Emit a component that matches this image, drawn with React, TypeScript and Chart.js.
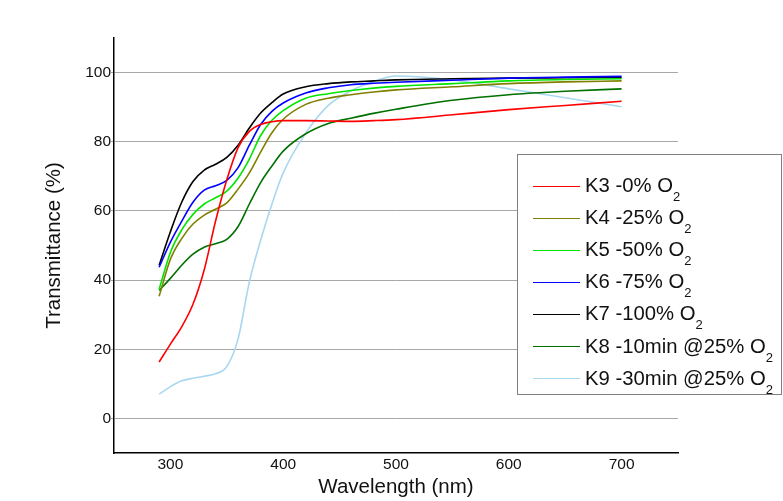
import React, { useEffect, useRef } from "react";
import { Chart, registerables } from "chart.js";
Chart.register(...registerables);

const wavelengths = [290, 300, 310, 320, 330, 340, 350, 360, 370, 380, 390, 400, 420, 440, 460, 480, 500, 550, 600, 650, 700];
const k3 = [16.3, 21.5, 26.5, 33, 43, 57, 69, 78.3, 83, 85, 85.8, 86.1, 86.1, 86, 85.9, 86.1, 86.4, 87.8, 89.3, 90.5, 91.7];
const k4 = [35.3, 46, 52, 56.2, 58.8, 60.5, 62.3, 66.3, 71, 77, 82.6, 86.5, 90.8, 92.6, 93.6, 94.4, 95, 95.9, 96.8, 97.3, 97.6];
const k5 = [37.3, 48, 54.5, 59, 62, 63.8, 65.7, 69.5, 75, 81.8, 86.2, 89, 92.6, 93.9, 94.8, 95.5, 96, 96.8, 97.6, 98, 98.2];
const k6 = [43.7, 51, 57, 62.5, 66, 67.3, 68.8, 72.5, 79, 85, 88.8, 91.2, 94.1, 95.6, 96.5, 96.9, 97.2, 97.8, 98.4, 98.7, 98.9];
const k7 = [44.3, 54, 62.5, 68.5, 71.8, 73.5, 75.5, 79, 84, 88.3, 91.3, 93.8, 95.9, 96.8, 97.3, 97.6, 97.9, 98.2, 98.4, 98.5, 98.6];
const k8 = [37, 40.5, 44.3, 47.5, 49.5, 50.5, 51.8, 55.5, 62, 68.2, 73, 77.3, 82.3, 85.3, 86.8, 88.2, 89.4, 92, 93.6, 94.6, 95.3];
const k9 = [7, 9.2, 10.9, 11.6, 12.2, 12.9, 15, 23, 39.5, 51.5, 62, 71, 82.5, 90.5, 94.7, 97.4, 99.0, 97.9, 95.3, 92.7, 90.1];

const seriesNames = ["K3 -0% O", "K4 -25% O", "K5 -50% O", "K6 -75% O", "K7 -100% O", "K8 -10min @25% O", "K9 -30min @25% O"];
const seriesSub = ["2", "2", "2", "2", "2", "2", "2"];
const seriesValues = [k3, k4, k5, k6, k7, k8, k9];
const seriesColors = ["#ff0000", "#808000", "#00e600", "#0000ff", "#000000", "#007000", "#a8d8f0"];

const xTicks = [300, 400, 500, 600, 700];
const yTicks = [0, 20, 40, 60, 80, 100];

const FONT = "'Liberation Sans', Arial, Helvetica, sans-serif";

export default function App() {
  const ref = useRef<HTMLCanvasElement | null>(null);

  useEffect(() => {
    document.body.style.margin = "0";
    const canvas = ref.current;
    if (!canvas) return;
    const chart = new Chart(canvas, {
      type: "line",
      data: {
        datasets: seriesValues.map((vals, i) => ({
          label: seriesNames[i] + seriesSub[i],
          data: wavelengths.map((x, j) => ({ x, y: vals[j] })),
          borderColor: seriesColors[i],
          backgroundColor: seriesColors[i],
          borderWidth: 1.6,
          pointRadius: 0,
          cubicInterpolationMode: "monotone" as const,
          fill: false,
        })),
      },
      options: {
        animation: false,
        responsive: false,
        layout: { padding: { left: 0, right: 105, top: 38, bottom: 0 } },
        plugins: {
          legend: { display: false },
          tooltip: { enabled: false },
        },
        scales: {
          x: {
            type: "linear",
            min: 250,
            max: 750,
            afterBuildTicks: (s: any) => {
              s.ticks = xTicks.map((v) => ({ value: v }));
            },
            afterFit: (s: any) => {
              s.height = 48;
            },
            grid: { display: true, drawOnChartArea: false, drawTicks: false, color: "rgba(0,0,0,0)" },
            border: { display: true, color: "#000", width: 1.5 },
            ticks: {
              font: { family: FONT, size: 15.5 },
              color: "#111",
              padding: 2,
              maxRotation: 0,
            },
            title: {
              display: true,
              text: "Wavelength (nm)",
              font: { family: FONT, size: 20.5 },
              color: "#111",
              padding: { top: 0, bottom: 1 },
            },
          },
          y: {
            type: "linear",
            min: -10,
            max: 110,
            afterBuildTicks: (s: any) => {
              s.ticks = yTicks.map((v) => ({ value: v }));
            },
            afterFit: (s: any) => {
              s.width = 114;
            },
            grid: { display: true, color: "#a8a8a8", lineWidth: 1, drawTicks: true, tickLength: 3, tickColor: "#a8a8a8" },
            border: { display: true, color: "#000", width: 1.5 },
            ticks: {
              font: { family: FONT, size: 15.5 },
              color: "#111",
              padding: 0,
            },
            title: {
              display: true,
              text: "Transmittance (%)",
              font: { family: FONT, size: 20.5 },
              color: "#111",
              padding: { top: 42.5, bottom: 0 },
            },
          },
        },
      },
    });
    return () => chart.destroy();
  }, []);

  return (
    <div style={{ position: "relative", width: 783, height: 501, background: "#fff", overflow: "hidden" }}>
      <canvas ref={ref} width={783} height={501} style={{ display: "block", width: 783, height: 501 }} />
      <div
        style={{
          position: "absolute",
          left: 517,
          top: 154,
          width: 265,
          height: 241,
          boxSizing: "border-box",
          border: "1px solid #808080",
          background: "#fff",
          paddingTop: 15,
          fontFamily: FONT,
        }}
      >
        {seriesNames.map((name, i) => (
          <div key={name} style={{ display: "flex", alignItems: "center", height: 32.1 }}>
            <span
              style={{
                display: "inline-block",
                marginLeft: 15,
                width: 47,
                height: 0,
                borderTop: `1.6px solid ${seriesColors[i]}`,
              }}
            />
            <span style={{ marginLeft: 5, fontSize: 20.3, color: "#111", whiteSpace: "nowrap", lineHeight: "20px" }}>
              {name}
              <sub style={{ fontSize: 13, verticalAlign: -9, lineHeight: 0 }}>{seriesSub[i]}</sub>
            </span>
          </div>
        ))}
      </div>
    </div>
  );
}
